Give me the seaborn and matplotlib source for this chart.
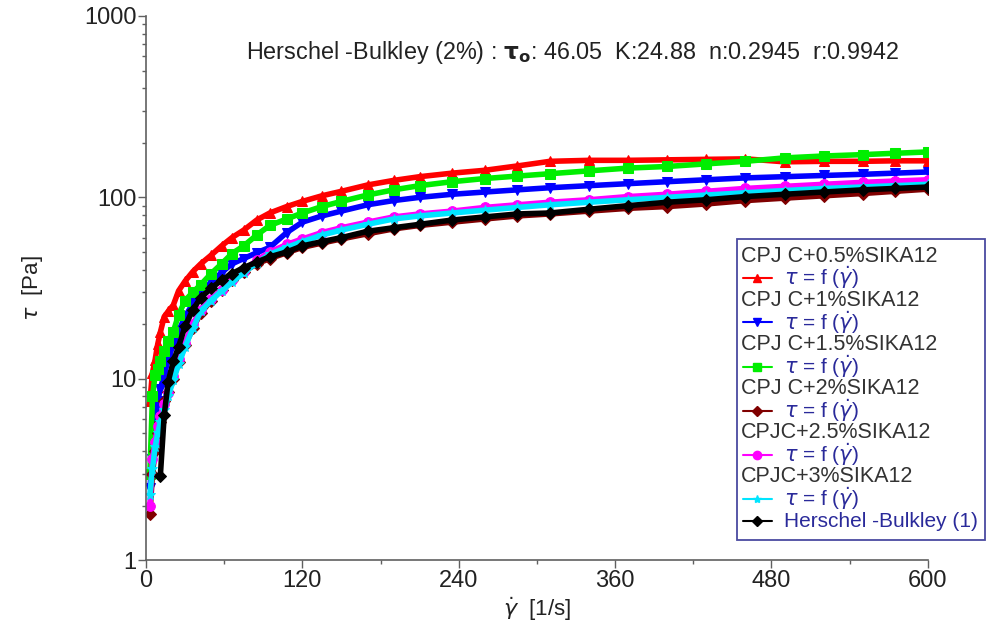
import numpy as np
import pandas as pd
import matplotlib
matplotlib.use("Agg")
import matplotlib.pyplot as plt
import seaborn as sns
from matplotlib.lines import Line2D
from matplotlib.patches import Rectangle
from matplotlib.ticker import FixedLocator, LogLocator, NullFormatter

# ---------------- data ----------------
shear_rate = [3, 5, 7, 9, 11, 14, 17, 21, 25, 30, 36, 42, 50, 58, 66, 75, 85, 95,
              108, 120, 135, 150, 170, 190, 210, 235, 260, 285, 310, 340, 370,
              400, 430, 460, 490, 520, 550, 575, 600]

tau_05 = [7.5, 10.8, 12.7, 15.5, 18, 22, 23.5, 25.5, 30.5, 34.5, 39, 43, 48, 54, 60, 66, 75, 82,
          89, 95, 102, 108, 117, 124, 130, 136, 141, 149, 158, 160, 160,
          161, 162, 163, 157, 158, 158, 159, 159]
tau_1 = [2.5, 3.6, 5.4, 7.5, 8.8, 10.5, 12.8, 15.5, 18.3, 22, 26, 30, 34, 38.5, 43, 46, 49.5, 53,
         64, 73, 79, 84, 91, 96, 100, 104, 107, 110, 113, 116, 119,
         122, 125, 128, 130, 132, 134, 136, 138]
tau_15 = [3.0, 8, 10.5, 11.3, 12.5, 14.2, 16.2, 18.2, 22.5, 27, 30, 33, 38, 43, 49, 54, 62, 70,
          76, 82, 89, 95, 103, 110, 116, 122, 127, 131, 135, 140, 145,
          148, 153, 158, 165, 169, 172, 175, 178]
tau_2 = [1.8, 3.0, 4.0, 5.0, 5.8, 7.5, 8.5, 10, 12.3, 15.3, 19, 23, 27, 31, 35, 39, 43, 46,
         49.5, 53, 56, 59, 63, 67, 70, 73, 76, 79, 81, 84, 87,
         89, 92, 96, 99, 102, 105, 108, 111]
tau_25 = [2.0, 3.6, 4.5, 5.5, 6.2, 7.3, 8.3, 10.3, 12.8, 15.8, 20, 24, 27.5, 31, 35, 39.5, 45, 50,
          55, 59, 64, 68, 73, 78, 81, 84, 88, 91, 94, 97, 101,
          104, 108, 112, 115, 118, 121, 123, 125]
tau_3 = [2.3, 3.2, 4.2, 5.0, 5.8, 6.7, 8.0, 9.8, 12, 15, 19, 23.5, 27, 30.5, 34, 38.5, 43.5, 48.5,
         53, 57, 62, 66, 71, 76, 79, 82, 85, 88, 91, 94, 97,
         100, 103, 106, 109, 112, 114, 116, 118]
tau_hb = [np.nan, np.nan, np.nan, np.nan, 2.9, 6.3, 9.6, 12.5, 15, 19.5, 24, 28, 31.5, 35, 38, 41, 44, 47,
          50, 54, 57, 60, 65, 68, 71, 75, 78, 81, 82, 86, 90,
          94, 97, 101, 104, 107, 110, 112, 114]

series_names = ["CPJ C+0.5%SIKA12", "CPJ C+1%SIKA12", "CPJ C+1.5%SIKA12",
                "CPJ C+2%SIKA12", "CPJC+2.5%SIKA12", "CPJC+3%SIKA12",
                "Herschel -Bulkley (1)"]
series_values = [tau_05, tau_1, tau_15, tau_2, tau_25, tau_3, tau_hb]
series_colors = ["#ff0000", "#0000ff", "#00ee00", "#800000", "#ff00ff", "#00e5ff", "#000000"]
series_markers = ["^", "v", "s", "D", "o", "*", "D"]
x_ticks = [0, 120, 240, 360, 480, 600]
y_ticks = [1, 10, 100, 1000]
annotation = r"Herschel -Bulkley (2%) : $\mathbf{\tau_o}$: 46.05  K:24.88  n:0.2945  r:0.9942"

# ---------------- figure ----------------
sns.set_theme(style="white")
plt.rcParams["font.family"] = ["Liberation Sans", "DejaVu Sans"]
plt.rcParams["mathtext.fontset"] = "dejavusans"

fig = plt.figure(figsize=(9.89, 6.38), dpi=100)
ax = fig.add_axes([0.1476, 0.122, 0.7906, 0.853])

for name, vals, col, mk in zip(series_names, series_values, series_colors, series_markers):
    df = pd.DataFrame({"x": shear_rate, "y": vals}).dropna()
    sns.lineplot(data=df, x="x", y="y", ax=ax, color=col, marker=mk,
                 markersize=7 if mk != "D" else 6, markeredgecolor=col,
                 linewidth=4.0, estimator=None, sort=False, legend=False)

ax.set_yscale("log")
ax.set_xlim(0, 600)
ax.set_ylim(1, 1000)
ax.xaxis.set_major_locator(FixedLocator(x_ticks))
ax.xaxis.set_minor_locator(FixedLocator([60, 180, 300, 420, 540]))
ax.yaxis.set_major_locator(FixedLocator(y_ticks))
ax.yaxis.set_minor_locator(LogLocator(base=10, subs=np.arange(2, 10)))
ax.yaxis.set_minor_formatter(NullFormatter())
ax.set_xticklabels([str(t) for t in x_ticks])
ax.set_yticklabels([str(t) for t in y_ticks])

for s in ["top", "right"]:
    ax.spines[s].set_visible(False)
for s in ["left", "bottom"]:
    ax.spines[s].set_color("#606060")
    ax.spines[s].set_linewidth(1.2)

ax.tick_params(axis="both", which="major", direction="out", length=6, width=1,
               color="#606060", labelsize=17, labelcolor="#222222", pad=1,
               left=True, bottom=True)
ax.tick_params(axis="both", which="minor", direction="out", length=3, width=1,
               color="#606060", left=True, bottom=True)

ax.set_xlabel(r"$\dot{\gamma}$  [1/s]", fontsize=16, color="#222222", labelpad=2)
ax.set_ylabel(r"$\tau$  [Pa]", fontsize=16, color="#222222", labelpad=28)
ax.grid(False)

fig.text(0.579, 0.917, annotation, fontsize=16.8, color="#222222", ha="center", va="center")

# ---------------- legend (drawn in figure coords) ----------------
L, R, B, T = 737 / 989, 985 / 989, 1 - 540 / 638, 1 - 239 / 638
fig.patches.append(Rectangle((L, B), R - L, T - B, transform=fig.transFigure,
                             facecolor="white", edgecolor="#4a4aa0", linewidth=1.3,
                             zorder=5))
row_h = 22.1 / 638
y0 = 1 - 256 / 638
text_blue = "#2a2a9a"
row = 0
for i, (name, col, mk) in enumerate(zip(series_names, series_colors, series_markers)):
    if i < 6:
        fig.text(741 / 989, y0 - row * row_h, name, fontsize=15.5, color="#333333",
                 ha="left", va="center", zorder=6)
        row += 1
        label = r"$\tau$ = f ($\dot{\gamma}$)"
    else:
        label = name
    yy = y0 - row * row_h
    fig.lines.append(Line2D([743 / 989, 772 / 989], [yy, yy], transform=fig.transFigure,
                            color=col, linewidth=1.5, zorder=6))
    fig.lines.append(Line2D([757 / 989], [yy], transform=fig.transFigure, color=col,
                            marker=mk, markersize=6 if mk != "D" else 5.5,
                            markeredgecolor=col, linestyle="none", zorder=7))
    fig.text(784 / 989, yy, label, fontsize=15, color=text_blue, ha="left", va="center",
             zorder=6)
    row += 1

fig.savefig("out.png", dpi=100)
